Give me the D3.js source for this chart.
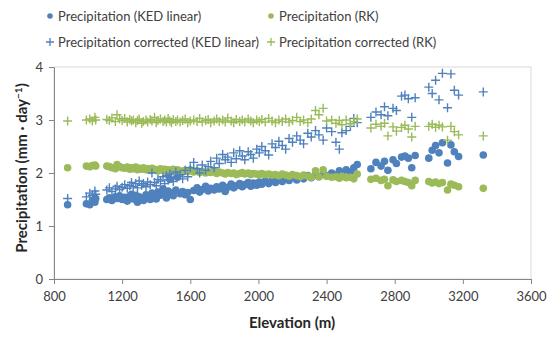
<!DOCTYPE html>
<html>
<head>
<meta charset="utf-8">
<script src="https://cdn.jsdelivr.net/npm/d3@7/dist/d3.min.js"></script>
<style>
  body { margin: 0; background: #fff; }
  text { font-family: Lato, "Open Sans", sans-serif; }
</style>
</head>
<body>
<svg id="chart" width="550" height="337"></svg>
<script>
// station elevations (m), shared by all four series
var elevation = [880,
  990, 1010, 1025, 1040, 1045,
  1110, 1125, 1140, 1160, 1170, 1185, 1200, 1215, 1230, 1245, 1255, 1265, 1280, 1290, 1300,
  1315, 1325, 1340, 1350, 1365, 1375, 1390, 1400, 1410, 1425, 1440, 1450, 1460, 1470, 1480, 1490, 1500, 1515, 1525, 1540, 1555, 1570, 1585, 1600,
  1620, 1640, 1655, 1670, 1690, 1705, 1720, 1740, 1755, 1770, 1790, 1805, 1820, 1840, 1855, 1870, 1890, 1905, 1920, 1940, 1955, 1970, 1990,
  2005, 2020, 2040, 2060, 2080, 2100, 2120, 2140, 2160, 2180, 2200, 2225, 2245, 2265, 2290, 2310, 2335, 2355, 2380, 2400,
  2430, 2455, 2475, 2490, 2515, 2540, 2560, 2580,
  2660, 2690, 2720, 2740, 2760, 2790, 2810, 2840, 2860, 2880, 2900, 2920,
  3000, 3020, 3040, 3060, 3080, 3110, 3130, 3150, 3175,
  3320];

var precipKED = [1.40,
  1.42, 1.40, 1.48, 1.45, 1.52,
  1.50, 1.53, 1.48, 1.55, 1.52, 1.57, 1.50, 1.54, 1.47, 1.56, 1.60, 1.51, 1.58, 1.45, 1.55,
  1.52, 1.48, 1.59, 1.54, 1.50, 1.62, 1.56, 1.51, 1.64, 1.58, 1.70, 1.60, 1.53, 1.66, 1.88, 1.62, 1.57, 1.68, 1.92, 1.61, 1.65, 1.59, 1.63, 1.50,
  1.67, 1.72, 1.64, 1.69, 1.75, 1.66, 1.71, 1.68, 1.74, 1.70, 1.77, 1.65, 1.73, 1.79, 1.72, 1.76, 1.80, 1.74, 1.78, 1.82, 1.75, 1.81, 1.77,
  1.83, 1.79, 1.85, 1.80, 1.86, 1.82, 1.88, 1.84, 1.90, 1.86, 1.92, 1.87, 1.93, 1.89, 1.95, 1.91, 1.97, 1.93, 1.99, 1.95,
  2.00, 1.96, 2.04, 1.98, 2.06, 2.02, 2.10, 2.16,
  2.08, 2.20, 2.13, 2.22, 2.05, 2.25, 2.18, 2.30, 2.32, 2.28, 2.10, 2.33,
  2.28, 2.43, 2.52, 2.38, 2.57, 2.19, 2.53, 2.40, 2.31,
  2.34];

var precipRK = [2.10,
  2.13, 2.12, 2.14, 2.15, 2.13,
  2.13, 2.12, 2.10, 2.08, 2.16, 2.12, 2.10, 2.09, 2.11, 2.07, 2.10, 2.08, 2.11, 2.06, 2.09,
  2.07, 2.10, 2.06, 2.08, 2.05, 2.09, 2.07, 2.06, 2.04, 2.08, 2.05, 2.07, 2.03, 2.06, 2.04, 2.05, 2.07, 2.03, 2.06, 2.04, 2.02, 2.05, 2.03, 2.06,
  2.02, 2.04, 2.01, 2.03, 2.00, 2.02, 2.01, 2.03, 1.99, 2.02, 2.00, 1.98, 2.01, 1.99, 2.00, 1.97, 1.99, 2.01, 1.98, 2.00, 1.97, 1.99, 1.98,
  1.96, 1.99, 1.97, 1.98, 1.96, 1.97, 1.95, 1.98, 1.96, 1.94, 1.97, 1.95, 1.93, 1.96, 1.94, 1.92, 2.04, 1.93, 2.06, 1.94,
  1.92, 1.93, 1.90, 1.94, 1.91, 1.92, 1.89, 1.98,
  1.88, 1.90, 1.86, 1.88, 1.76, 1.87, 1.84, 1.86, 1.84, 1.82, 1.76, 1.86,
  1.84, 1.81, 1.83, 1.80, 1.82, 1.68, 1.79, 1.77, 1.74,
  1.71];

var correctedKED = [1.52,
  1.55, 1.62, 1.58, 1.66, 1.60,
  1.68, 1.72, 1.65, 1.70, 1.75, 1.69, 1.73, 1.78, 1.71, 1.76, 1.82, 1.74, 1.80, 1.72, 1.85,
  1.77, 1.80, 1.74, 1.83, 1.78, 2.00, 1.82, 1.76, 1.88, 1.85, 1.93, 1.80, 1.95, 1.87, 1.98, 1.90, 1.84, 2.02, 1.94, 1.97, 1.89, 2.05, 1.93, 2.10,
  2.20, 2.08, 2.00, 2.15, 2.05, 2.12, 2.22, 2.10, 2.28, 2.18, 2.35, 2.25, 2.30, 2.20, 2.38, 2.27, 2.42, 2.32, 2.25, 2.40, 2.35, 2.28, 2.45,
  2.38, 2.50, 2.42, 2.34, 2.55, 2.48, 2.60, 2.52, 2.45, 2.65, 2.58, 2.70, 2.62, 2.55, 2.75, 2.68, 2.80, 2.72, 2.62, 2.85,
  2.78, 2.58, 2.45, 2.76, 2.80, 2.88, 3.03, 2.95,
  3.05, 3.15, 3.10, 3.25, 3.08, 3.22, 3.18, 3.45, 3.47, 3.40, 3.05, 3.42,
  3.62, 3.50, 3.75, 3.38, 3.88, 3.23, 3.87, 3.56, 3.47,
  3.53];

var correctedRK = [2.98,
  3.00, 3.02, 2.98, 3.05, 3.00,
  3.01, 2.99, 3.04, 2.97, 3.10, 3.02, 2.99, 3.03, 2.96, 3.01, 2.98, 3.00, 2.95, 2.99, 3.02,
  2.94, 2.97, 3.00, 2.96, 3.01, 2.98, 3.05, 2.95, 2.99, 3.02, 2.97, 3.00, 2.96, 3.03, 2.98, 2.95, 3.01, 2.97, 3.00, 2.96, 2.99, 3.02, 2.95, 2.98,
  3.00, 2.97, 3.03, 2.96, 2.99, 3.01, 2.95, 2.98, 3.02, 2.97, 3.00, 2.96, 3.04, 2.98, 2.95, 3.01, 2.97, 3.00, 2.96, 3.02, 2.98, 2.95, 3.00,
  2.97, 3.01, 2.96, 3.03, 2.98, 2.95, 3.00, 2.97, 3.02, 2.96, 2.99, 3.05, 2.97, 3.00, 2.95, 3.02, 3.18, 3.10, 3.22, 2.98,
  3.00, 2.94, 2.99, 2.91, 3.00, 2.93, 2.97, 3.02,
  2.85, 2.92, 2.88, 2.94, 2.70, 2.87, 2.79, 2.86, 2.90, 2.83, 2.68, 2.88,
  2.88, 2.92, 2.86, 2.90, 2.87, 2.62, 2.88, 2.78, 2.72,
  2.70];

var xTicks = [800, 1200, 1600, 2000, 2400, 2800, 3200, 3600];
var yTicks = [0, 1, 2, 3, 4];

var blue = "#4f81bd", green = "#9bbb59";

var seriesList = [
  {name: "Precipitation (KED linear)", values: precipKED, color: blue, shape: "dot"},
  {name: "Precipitation (RK)", values: precipRK, color: green, shape: "dot"},
  {name: "Precipitation corrected (KED linear)", values: correctedKED, color: blue, shape: "plus"},
  {name: "Precipitation corrected (RK)", values: correctedRK, color: green, shape: "plus"}
];

var svg = d3.select("#chart");
var plotLeft = 54, plotRight = 531, plotTop = 67, plotBottom = 279;

var x = d3.scaleLinear().domain([800, 3600]).range([plotLeft, plotRight]);
var y = d3.scaleLinear().domain([0, 4]).range([plotBottom, plotTop]);

// plot area frame
svg.append("rect")
    .attr("x", plotLeft).attr("y", plotTop)
    .attr("width", plotRight - plotLeft).attr("height", plotBottom - plotTop)
    .attr("fill", "none").attr("stroke", "#d9d9d9");

var xAxis = svg.append("g")
    .attr("transform", "translate(0," + plotBottom + ")")
    .call(d3.axisBottom(x).tickValues(xTicks).tickFormat(d3.format("d"))
      .tickSize(5).tickPadding(8).tickSizeOuter(0));
var yAxis = svg.append("g")
    .attr("transform", "translate(" + plotLeft + ",0)")
    .call(d3.axisLeft(y).tickValues(yTicks).tickFormat(d3.format("d"))
      .tickSize(5).tickPadding(6).tickSizeOuter(0));

[xAxis, yAxis].forEach(function(a) {
  a.select(".domain").attr("stroke", "#868686");
  a.selectAll(".tick line").attr("stroke", "#868686");
  a.selectAll(".tick text")
      .attr("fill", "#404040")
      .style("font-family", "Lato, sans-serif")
      .style("font-size", "13px");
});

function plusPath(size) {
  var h = size / 2;
  return "M" + (-h) + ",0H" + h + "M0," + (-h) + "V" + h;
}

function drawMarks(g, s) {
  if (s.shape == "dot") {
    g.selectAll("circle")
        .data(s.values)
        .enter().append("circle")
        .attr("cx", function(d, i) { return x(elevation[i]); })
        .attr("cy", function(d) { return y(d); })
        .attr("r", 3.8)
        .attr("fill", s.color);
  } else {
    g.selectAll("path")
        .data(s.values)
        .enter().append("path")
        .attr("transform", function(d, i) { return "translate(" + x(elevation[i]) + "," + y(d) + ")"; })
        .attr("d", plusPath(9))
        .attr("stroke", s.color)
        .attr("stroke-width", 1.4)
        .attr("fill", "none");
  }
}

seriesList.forEach(function(s) {
  drawMarks(svg.append("g"), s);
});

// legend
var legendPos = [[50, 16], [271, 16], [50, 42], [271, 42]];
seriesList.forEach(function(s, i) {
  var p = legendPos[i];
  var g = svg.append("g").attr("transform", "translate(" + p[0] + "," + p[1] + ")");
  if (s.shape == "dot") {
    g.append("circle").attr("r", 2.8).attr("fill", s.color);
  } else {
    g.append("path").attr("d", plusPath(8)).attr("stroke", s.color).attr("stroke-width", 1.3);
  }
  g.append("text")
      .attr("x", 8).attr("y", 4.5)
      .attr("fill", "#404040")
      .style("font-size", "13px")
      .text(s.name);
});

// axis titles
svg.append("text")
    .attr("x", 292).attr("y", 328)
    .attr("text-anchor", "middle")
    .attr("fill", "#262626")
    .style("font-size", "15px").style("font-weight", "bold")
    .text("Elevation (m)");

var yTitle = svg.append("text")
    .attr("transform", "translate(27,168) rotate(-90)")
    .attr("text-anchor", "middle")
    .attr("fill", "#262626")
    .style("font-size", "15px").style("font-weight", "bold");
yTitle.append("tspan").text("Precipitation (mm \u00b7 day");
yTitle.append("tspan").attr("dy", -5).style("font-size", "10px").text("\u22121");
yTitle.append("tspan").attr("dy", 5).text(")");
</script>
</body>
</html>
